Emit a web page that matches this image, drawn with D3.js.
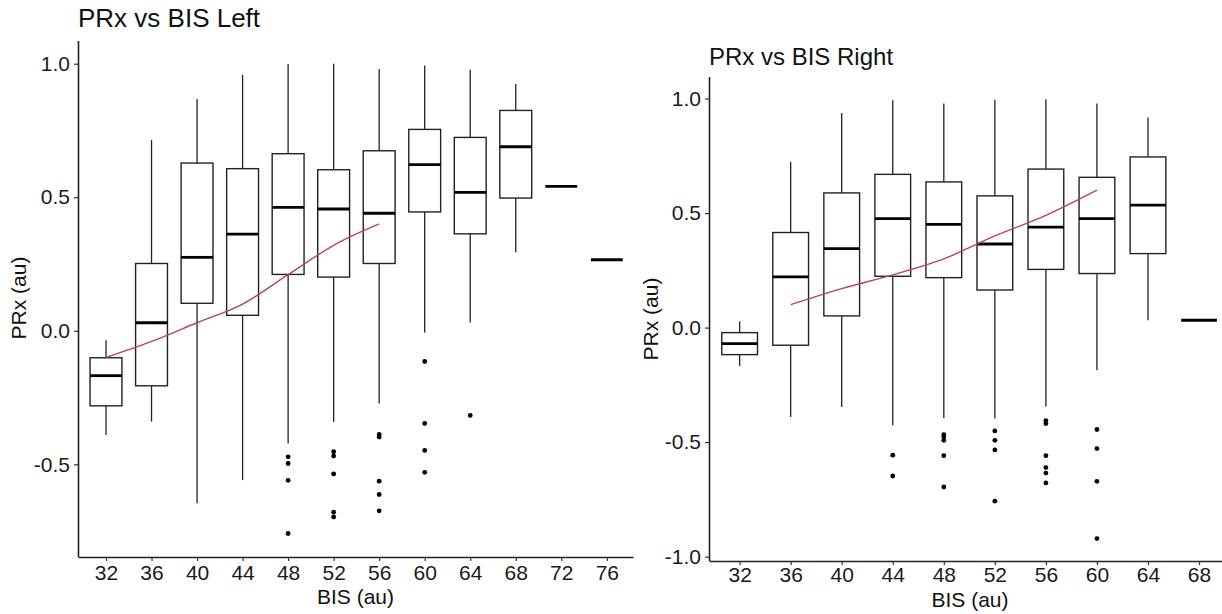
<!DOCTYPE html>
<html>
<head>
<meta charset="utf-8">
<script src="https://cdn.jsdelivr.net/npm/d3@7"></script>
<style>
  body { margin: 0; background: #fff; }
  text { font-family: "Liberation Sans", Arial, sans-serif; }
</style>
</head>
<body>
<svg id="chart" width="1222" height="614"></svg>
<script>
// ---- data ----
// left panel
var leftBis  = [32, 36, 40, 44, 48, 52, 56, 60, 64, 68, 72, 76];
var leftLow  = [-0.39, -0.34, -0.646, -0.559, -0.422, -0.341, -0.272, -0.006, 0.031, 0.294, 0.541, 0.266];
var leftQ1   = [-0.281, -0.206, 0.103, 0.058, 0.211, 0.201, 0.252, 0.445, 0.363, 0.497, 0.541, 0.266];
var leftMed  = [-0.168, 0.03, 0.275, 0.362, 0.462, 0.456, 0.44, 0.622, 0.518, 0.689, 0.541, 0.266];
var leftQ3   = [-0.101, 0.252, 0.628, 0.607, 0.663, 0.603, 0.674, 0.754, 0.724, 0.825, 0.541, 0.266];
var leftHigh = [-0.035, 0.714, 0.868, 0.958, 0.999, 1.0, 0.98, 0.993, 0.977, 0.924, 0.541, 0.266];
var leftOutBis = [48, 48, 48, 48, 52, 52, 52, 52, 52, 56, 56, 56, 56, 56, 60, 60, 60, 60, 64];
var leftOutVal = [-0.472, -0.497, -0.56, -0.759, -0.453, -0.469, -0.536, -0.679, -0.697,
                  -0.388, -0.398, -0.563, -0.613, -0.674, -0.115, -0.347, -0.448, -0.53, -0.317];
var leftTrendBis = [32, 36, 40, 44, 48, 52, 56];
var leftTrendVal = [-0.10, -0.04, 0.03, 0.10, 0.21, 0.32, 0.40];
var leftXTicks = [32, 36, 40, 44, 48, 52, 56, 60, 64, 68, 72, 76];
var leftYTicks = [-0.5, 0, 0.5, 1.0];

// right panel
var rightBis  = [32, 36, 40, 44, 48, 52, 56, 60, 64, 68];
var rightLow  = [-0.168, -0.39, -0.347, -0.426, -0.395, -0.397, -0.344, -0.186, 0.032, 0.032];
var rightQ1   = [-0.118, -0.077, 0.051, 0.224, 0.218, 0.164, 0.254, 0.236, 0.323, 0.032];
var rightMed  = [-0.07, 0.221, 0.345, 0.476, 0.451, 0.365, 0.439, 0.476, 0.535, 0.032];
var rightQ3   = [-0.022, 0.415, 0.588, 0.669, 0.636, 0.575, 0.692, 0.656, 0.745, 0.032];
var rightHigh = [0.027, 0.723, 0.937, 0.992, 0.978, 0.995, 0.997, 0.978, 0.917, 0.032];
var rightOutBis = [44, 44, 48, 48, 48, 48, 48, 52, 52, 52, 52, 56, 56, 56, 56, 56, 56, 60, 60, 60, 60];
var rightOutVal = [-0.557, -0.648, -0.467, -0.477, -0.492, -0.559, -0.696, -0.451, -0.492, -0.534, -0.758,
                   -0.406, -0.419, -0.559, -0.611, -0.635, -0.678, -0.445, -0.528, -0.671, -0.921];
var rightTrendBis = [36, 40, 44, 48, 52, 56, 60];
var rightTrendVal = [0.10, 0.17, 0.23, 0.30, 0.40, 0.49, 0.60];
var rightXTicks = [32, 36, 40, 44, 48, 52, 56, 60, 64, 68];
var rightYTicks = [-1.0, -0.5, 0, 0.5, 1.0];

var boxWidth = 2.8; // in BIS units

var svg = d3.select("#chart");

// plain hyphen for negatives, like the original
var fmtY = function(v) { return d3.format(".1f")(v).replace("\u2212", "-"); };

function drawPanel(p) {
    var x = d3.scaleLinear().domain(p.xDomain).range([p.left, p.right]);
    var y = d3.scaleLinear().domain(p.yDomain).range([p.bottom, p.top]);
    var g = svg.append("g");

    // boxes
    var boxes = p.bis.map(function(b, i) {
        return {bis: b, low: p.low[i], q1: p.q1[i], med: p.med[i], q3: p.q3[i], high: p.high[i]};
    });
    var bx = g.selectAll("g.box").data(boxes).enter().append("g").attr("class", "box");
    bx.append("line")
        .attr("x1", function(d) { return x(d.bis); })
        .attr("x2", function(d) { return x(d.bis); })
        .attr("y1", function(d) { return y(d.high); })
        .attr("y2", function(d) { return y(d.q3); })
        .attr("stroke", "#222").attr("stroke-width", 1.3);
    bx.append("line")
        .attr("x1", function(d) { return x(d.bis); })
        .attr("x2", function(d) { return x(d.bis); })
        .attr("y1", function(d) { return y(d.q1); })
        .attr("y2", function(d) { return y(d.low); })
        .attr("stroke", "#222").attr("stroke-width", 1.3);
    bx.filter(function(d) { return d.q3 > d.q1; }).append("rect")
        .attr("x", function(d) { return x(d.bis - boxWidth / 2); })
        .attr("width", function(d) { return x(d.bis + boxWidth / 2) - x(d.bis - boxWidth / 2); })
        .attr("y", function(d) { return y(d.q3); })
        .attr("height", function(d) { return y(d.q1) - y(d.q3); })
        .attr("fill", "#fff").attr("stroke", "#222").attr("stroke-width", 1.4);
    bx.append("line")
        .attr("x1", function(d) { return x(d.bis - boxWidth / 2); })
        .attr("x2", function(d) { return x(d.bis + boxWidth / 2); })
        .attr("y1", function(d) { return y(d.med); })
        .attr("y2", function(d) { return y(d.med); })
        .attr("stroke", "#000").attr("stroke-width", 2.8);

    // outliers
    g.selectAll("circle").data(p.outBis).enter().append("circle")
        .attr("cx", function(d) { return x(d); })
        .attr("cy", function(d, i) { return y(p.outVal[i]); })
        .attr("r", 2.4)
        .attr("fill", "#000");

    // trend line
    var line = d3.line()
        .x(function(d) { return x(d); })
        .y(function(d, i) { return y(p.trendVal[i]); })
        .curve(d3.curveMonotoneX);
    g.append("path")
        .attr("d", line(p.trendBis))
        .attr("fill", "none")
        .attr("stroke", "#b5474b")
        .attr("stroke-width", 1.4);

    // axes
    var xAxis = d3.axisBottom(x).tickValues(p.xTicks).tickSize(4).tickSizeOuter(0).tickPadding(p.xPad).tickFormat(d3.format("d"));
    var yAxis = d3.axisLeft(y).tickValues(p.yTicks).tickSize(4).tickSizeOuter(0).tickPadding(4).tickFormat(fmtY);

    var gx = g.append("g").attr("transform", "translate(0," + p.bottom + ")").call(xAxis);
    var gy = g.append("g").attr("transform", "translate(" + p.left + ",0)").call(yAxis);
    [gx, gy].forEach(function(a) {
        a.select(".domain").attr("stroke", "#222").attr("stroke-width", 1.6);
        a.selectAll(".tick line").attr("stroke", "#333").attr("stroke-width", 1.2);
        a.selectAll(".tick text").attr("fill", "#1a1a1a").style("font-size", "21px");
    });
    gy.select(".domain").attr("d", "M0.5," + p.top + "V" + p.bottom);

    // titles
    svg.append("text")
        .attr("x", p.left)
        .attr("y", p.titleY)
        .style("font-size", p.titleSize + "px")
        .attr("fill", "#111")
        .text(p.title);
    svg.append("text")
        .attr("x", (p.left + p.xLabelRight) / 2)
        .attr("y", p.xLabelY)
        .attr("text-anchor", "middle")
        .style("font-size", "21px")
        .attr("fill", "#111")
        .text("BIS (au)");
    svg.append("text")
        .attr("transform", "translate(" + p.yLabelX + "," + p.yLabelMid + ") rotate(-90)")
        .attr("text-anchor", "middle")
        .style("font-size", "21px")
        .attr("fill", "#111")
        .text("PRx (au)");
}

drawPanel({
    bis: leftBis, low: leftLow, q1: leftQ1, med: leftMed, q3: leftQ3, high: leftHigh,
    outBis: leftOutBis, outVal: leftOutVal,
    trendBis: leftTrendBis, trendVal: leftTrendVal,
    xTicks: leftXTicks, yTicks: leftYTicks,
    xDomain: [29.54, 78.3], yDomain: [-0.847, 1.085],
    left: 78, right: 633, top: 41, bottom: 557, xPad: 4,
    title: "PRx vs BIS Left", titleY: 27, titleSize: 26,
    xLabelRight: 633, xLabelY: 604,
    yLabelX: 26, yLabelMid: 298
});

drawPanel({
    bis: rightBis, low: rightLow, q1: rightQ1, med: rightMed, q3: rightQ3, high: rightHigh,
    outBis: rightOutBis, outVal: rightOutVal,
    trendBis: rightTrendBis, trendVal: rightTrendVal,
    xTicks: rightXTicks, yTicks: rightYTicks,
    xDomain: [29.6, 69.8], yDomain: [-1.019, 1.094],
    left: 709, right: 1222, top: 77, bottom: 561, xPad: 2,
    title: "PRx vs BIS Right", titleY: 65, titleSize: 24,
    xLabelRight: 1231, xLabelY: 607,
    yLabelX: 658, yLabelMid: 319
});
</script>
</body>
</html>
